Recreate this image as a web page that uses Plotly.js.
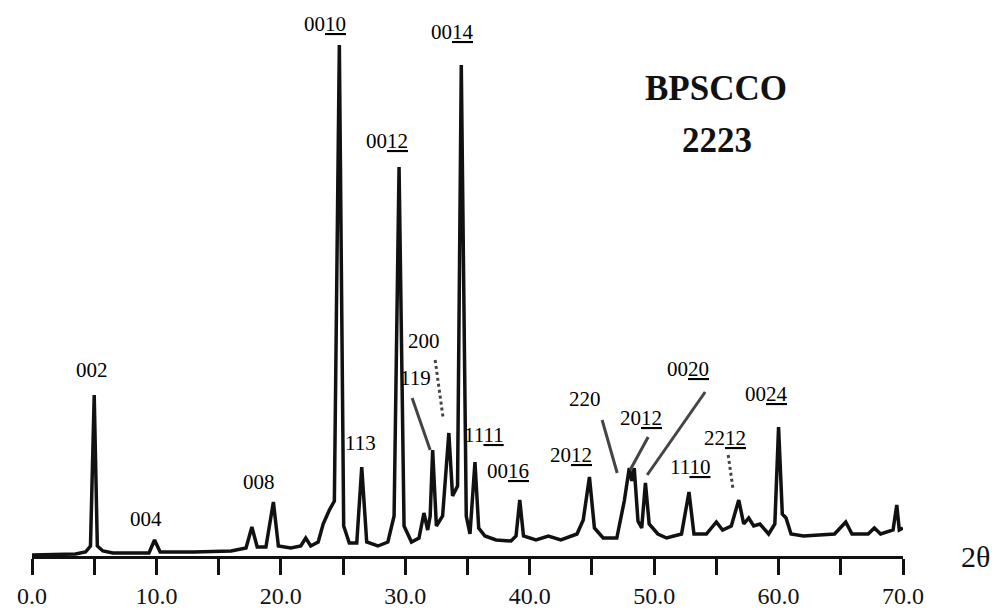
<!DOCTYPE html>
<html>
<head>
<meta charset="utf-8">
<script src="https://cdn.plot.ly/plotly-3.0.1.min.js"></script>
<style>html,body{margin:0;padding:0;background:#fff;}#chart{width:998px;height:611px;}</style>
</head>
<body>
<div id="chart"></div>
<script>
// 2θ positions (degrees) of the traced pattern
const twoTheta = [0.0, 3.5, 4.3, 4.7, 5.0, 5.25, 5.7, 6.5, 9.4, 9.85, 10.3, 13.0, 16.0, 17.2, 17.67, 18.1, 18.8, 19.4, 19.8, 20.8,
  21.6, 22.0, 22.4, 23.0, 23.4, 23.9, 24.3, 24.7, 25.05, 25.5, 26.1, 26.5, 26.9, 27.8, 28.6, 29.1, 29.5, 29.9, 30.5, 31.1,
  31.5, 31.8, 32.0, 32.2, 32.5, 33.0, 33.5, 33.8, 34.2, 34.5, 34.9, 35.2, 35.6, 35.9, 36.4, 37.3, 38.5, 38.9, 39.2, 39.5,
  40.5, 41.5, 42.5, 43.8, 44.3, 44.8, 45.2, 45.9, 47.0, 47.6, 48.0, 48.2, 48.4, 48.7, 49.0, 49.3, 49.6, 50.3, 51.0, 52.2,
  52.8, 53.2, 54.2, 55.0, 55.5, 56.2, 56.8, 57.2, 57.6, 58.0, 58.5, 59.2, 59.7, 60.0, 60.3, 60.6, 61.0, 62.0, 64.5, 65.4,
  65.9, 67.2, 67.7, 68.2, 69.2, 69.5, 69.7, 70.0];
// intensity (arbitrary units)
const intensity = [1, 2, 4, 10, 161, 10, 5, 3, 3, 16, 4, 4, 5, 8, 29, 9, 9, 54, 10, 8,
  10, 18, 10, 14, 32, 46, 55, 511, 30, 13, 13, 89, 14, 10, 14, 40, 389, 30, 14, 18,
  43, 26, 40, 106, 30, 40, 123, 60, 70, 491, 40, 22, 94, 28, 20, 16, 15, 20, 56, 20,
  16, 20, 16, 22, 36, 79, 28, 18, 18, 55, 88, 75, 88, 35, 28, 73, 32, 22, 18, 22,
  64, 22, 22, 34, 26, 30, 56, 32, 38, 30, 32, 22, 32, 129, 42, 38, 22, 20, 22, 34,
  22, 22, 28, 22, 26, 51, 26, 28];

// peak labels (Miller indices) and where they are written
const peakLabels = ["002", "004", "008", "00<u>10</u>", "00<u>12</u>", "00<u>14</u>", "113", "119", "200",
  "11<u>11</u>", "00<u>16</u>", "20<u>12</u>", "220", "20<u>12</u>", "00<u>20</u>", "11<u>10</u>", "22<u>12</u>", "00<u>24</u>"];
const labelX = [4.82, 9.16, 18.25, 23.55, 28.54, 33.76, 26.37, 30.79, 31.51, 36.33, 38.26, 43.33, 44.45, 48.95, 52.73, 52.89, 55.71, 59.0];
const labelY = [186, 37, 74, 532, 415, 524, 113, 178, 215, 121, 85, 101, 157, 138, 187, 89, 118, 162];

// tick labels
const tickVals = [0, 5, 10, 15, 20, 25, 30, 35, 40, 45, 50, 55, 60, 65, 70];
const tickText = ["0.0", "", "10.0", "", "20.0", "", "30.0", "", "40.0", "", "50.0", "", "60.0", "", "70.0"];

// leader lines: [x0, y0, x1, y1, dashed]
const leaders = [
  [30.55, 158, 32.0, 106, false],
  [32.4, 196, 33.04, 138, true],
  [45.82, 136, 47.03, 83, false],
  [49.52, 119, 48.07, 86, false],
  [54.1, 164, 49.44, 81, false],
  [55.95, 101, 56.35, 66, true]
];

const serif = "Liberation Serif, Times New Roman, serif";

const annotations = peakLabels.map((t, i) => ({
  x: labelX[i], y: labelY[i], xref: "x", yref: "y", text: t, showarrow: false,
  font: {family: serif, size: 21, color: "#000"}
}));
annotations.push({x: 54.98, y: 468, xref: "x", yref: "y", text: "<b>BPSCCO</b>", showarrow: false,
  font: {family: serif, size: 35, color: "#111"}});
annotations.push({x: 55.06, y: 416, xref: "x", yref: "y", text: "<b>2223</b>", showarrow: false,
  font: {family: serif, size: 35, color: "#111"}});
annotations.push({x: 1.083, y: 0.0, xref: "paper", yref: "paper", text: "2θ", showarrow: false,
  xanchor: "center", yanchor: "middle",
  font: {family: serif, size: 30, color: "#111"}});

const shapes = leaders.map(l => ({
  type: "line", xref: "x", yref: "y", x0: l[0], y0: l[1], x1: l[2], y1: l[3],
  line: {color: "#444", width: 3, dash: l[4] ? "dot" : "solid"}
}));

const trace = {
  x: twoTheta, y: intensity, type: "scatter", mode: "lines",
  line: {color: "#111", width: 3.5, shape: "linear"},
  hoverinfo: "skip"
};

const layout = {
  width: 998, height: 611,
  margin: {l: 32, r: 95, t: 0, b: 55, pad: 0},
  paper_bgcolor: "#fff", plot_bgcolor: "#fff",
  showlegend: false,
  xaxis: {
    range: [0, 70], showgrid: false, zeroline: false,
    showline: true, linecolor: "#111", linewidth: 3,
    ticks: "outside", ticklen: 16, tickwidth: 3, tickcolor: "#111",
    tickmode: "array", tickvals: tickVals, ticktext: tickText,
    tickfont: {family: serif, size: 24, color: "#111"}
  },
  yaxis: {range: [0, 556], visible: false, showgrid: false, zeroline: false},
  annotations: annotations,
  shapes: shapes
};

Plotly.newPlot("chart", [trace], layout, {staticPlot: true, displayModeBar: false});
</script>
</body>
</html>
